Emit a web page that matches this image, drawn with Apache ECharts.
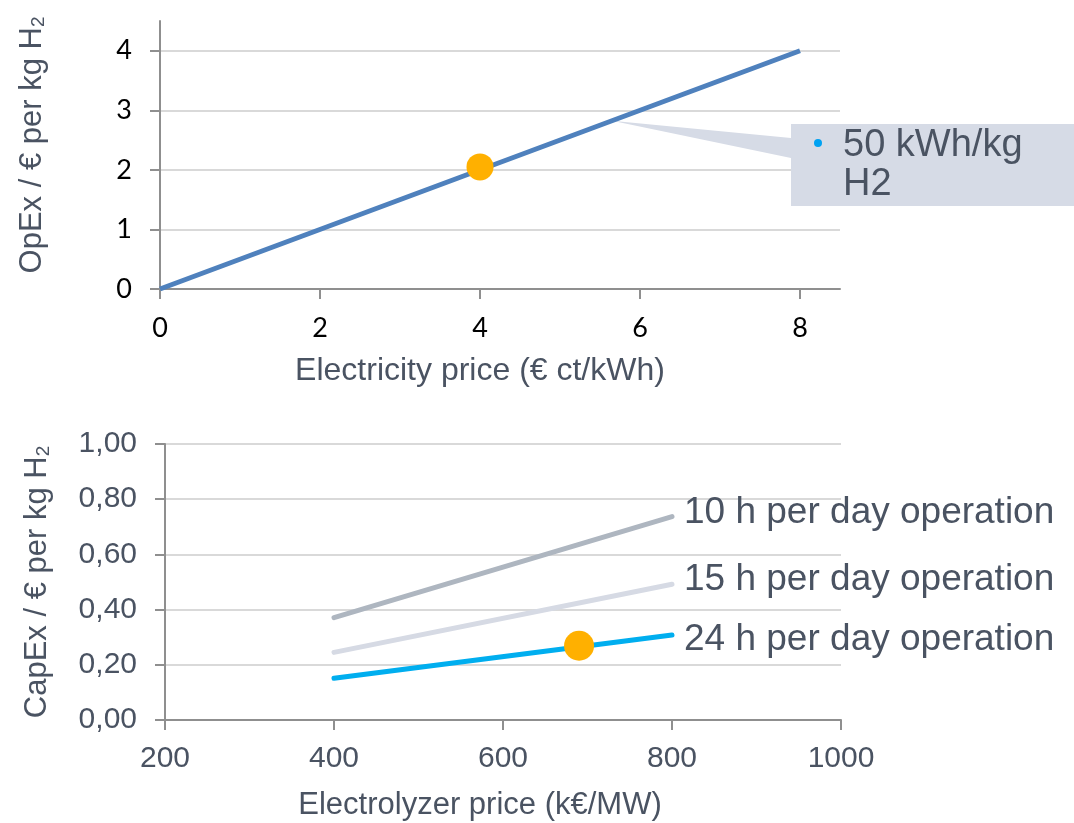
<!DOCTYPE html>
<html>
<head>
<meta charset="utf-8">
<script src="https://cdn.jsdelivr.net/npm/echarts@6/dist/echarts.min.js"></script>
<style>
html,body{margin:0;padding:0;background:#fff;}
#main{width:1074px;height:823px;}
</style>
</head>
<body>
<div id="main"></div>
<script>
// ---- data ----
const opexX = [0, 8];
const opexY = [0, 4];
const opexPoint = [4, 2.05];
const opexXTicks = [0, 2, 4, 6, 8];
const opexYTicks = [0, 1, 2, 3, 4];
const calloutAnchor = [5.65, 2.825];
const calloutLines = ['50 kWh/kg', 'H2'];

const capexX = [400, 800];
const seriesNames = ['10 h per day operation', '15 h per day operation', '24 h per day operation'];
const capex10h = [0.371, 0.737];
const capex15h = [0.245, 0.492];
const capex24h = [0.151, 0.308];
const capexPoint = [690, 0.269];
const capexXTicks = [200, 400, 600, 800, 1000];
const capexYTicks = [0, 0.2, 0.4, 0.6, 0.8, 1.0];

// ---- styles ----
const TXT = '#4a5362';
const AXIS = '#8f8f8f';
const GRID = '#d9d9d9';
const SANS = 'Liberation Sans, Arial, sans-serif';
const CAL = 'Lato, Carlito, sans-serif';

const chart = echarts.init(document.getElementById('main'), null, {renderer: 'canvas'});

function pairs(xs, ys) { return xs.map((x, i) => [x, ys[i]]); }

const subRich = {
  a: {fontSize: 31, fontFamily: SANS, color: TXT},
  s: {fontSize: 19, fontFamily: SANS, color: TXT, verticalAlign: 'bottom'}
};

const option = {
  animation: false,
  backgroundColor: '#fff',
  grid: [
    {left: 160, right: 234, top: 21, bottom: 534},
    {left: 165, right: 233, top: 444, bottom: 103}
  ],
  xAxis: [
    {
      gridIndex: 0, type: 'value', min: 0, max: 8.5, interval: 2,
      name: 'Electricity price (€ ct/kWh)', nameLocation: 'middle', nameGap: 66,
      nameTextStyle: {color: TXT, fontSize: 32, fontFamily: SANS, padding: [0, 40, 0, 0]},
      axisLine: {show: true, lineStyle: {color: AXIS, width: 2}},
      axisTick: {show: true, length: 10, customValues: opexXTicks, lineStyle: {color: AXIS, width: 2}},
      axisLabel: {customValues: opexXTicks, color: '#000', fontSize: 27, fontFamily: CAL, margin: 26},
      splitLine: {show: false}
    },
    {
      gridIndex: 1, type: 'value', min: 200, max: 1000, interval: 200,
      name: 'Electrolyzer price (k€/MW)', nameLocation: 'middle', nameGap: 70,
      nameTextStyle: {color: TXT, fontSize: 31, fontFamily: SANS, padding: [0, 46, 0, 0]},
      axisLine: {show: true, lineStyle: {color: AXIS, width: 2}},
      axisTick: {show: true, length: 10, customValues: capexXTicks, lineStyle: {color: AXIS, width: 2}},
      axisLabel: {customValues: capexXTicks, color: TXT, fontSize: 30, fontFamily: SANS, margin: 24,
        formatter: v => String(v)},
      splitLine: {show: false}
    }
  ],
  yAxis: [
    {
      gridIndex: 0, type: 'value', min: 0, max: 4.5, interval: 1,
      name: '{a|OpEx / € per kg H}{s|2}', nameLocation: 'middle', nameGap: 112,
      nameTextStyle: {color: TXT, fontFamily: SANS, padding: [0, 0, 0, 20], rich: subRich},
      axisLine: {show: true, lineStyle: {color: AXIS, width: 2}},
      axisTick: {show: true, length: 10, customValues: opexYTicks, lineStyle: {color: AXIS, width: 2}},
      axisLabel: {customValues: opexYTicks, color: '#000', fontSize: 27, fontFamily: CAL, margin: 28},
      splitLine: {show: true, lineStyle: {color: [GRID, GRID, GRID, GRID, GRID, 'rgba(0,0,0,0)'], width: 2}}
    },
    {
      gridIndex: 1, type: 'value', min: 0, max: 1, interval: 0.2,
      name: '{a|CapEx / € per kg H}{s|2}', nameLocation: 'middle', nameGap: 112,
      nameTextStyle: {color: TXT, fontFamily: SANS, rich: subRich},
      axisLine: {show: true, lineStyle: {color: AXIS, width: 2}},
      axisTick: {show: true, length: 10, customValues: capexYTicks, lineStyle: {color: AXIS, width: 2}},
      axisLabel: {customValues: capexYTicks, color: TXT, fontSize: 30, fontFamily: SANS, margin: 28,
        formatter: v => v.toFixed(2).replace('.', ',')},
      splitLine: {show: true, lineStyle: {color: GRID, width: 2}}
    }
  ],
  series: [
    {
      type: 'line', xAxisIndex: 0, yAxisIndex: 0, data: pairs(opexX, opexY),
      showSymbol: false, lineStyle: {color: '#4f81bd', width: 5}, z: 3
    },
    {
      type: 'scatter', xAxisIndex: 0, yAxisIndex: 0, data: [opexPoint],
      symbolSize: 27, itemStyle: {color: '#ffb000', opacity: 1}, z: 5
    },
    {
      name: seriesNames[0], type: 'line', xAxisIndex: 1, yAxisIndex: 1, data: pairs(capexX, capex10h),
      showSymbol: false, lineStyle: {color: '#aeb6c0', width: 5, cap: 'round'},
      endLabel: {show: true, formatter: seriesNames[0], color: TXT, fontSize: 37, fontFamily: SANS, distance: 12, offset: [0, -4]}
    },
    {
      name: seriesNames[1], type: 'line', xAxisIndex: 1, yAxisIndex: 1, data: pairs(capexX, capex15h),
      showSymbol: false, lineStyle: {color: '#d6dae4', width: 5, cap: 'round'},
      endLabel: {show: true, formatter: seriesNames[1], color: TXT, fontSize: 37, fontFamily: SANS, distance: 12, offset: [0, -4]}
    },
    {
      name: seriesNames[2], type: 'line', xAxisIndex: 1, yAxisIndex: 1, data: pairs(capexX, capex24h),
      showSymbol: false, lineStyle: {color: '#00aeef', width: 5, cap: 'round'},
      endLabel: {show: true, formatter: seriesNames[2], color: TXT, fontSize: 37, fontFamily: SANS, distance: 12, offset: [0, 5]}
    },
    {
      type: 'scatter', xAxisIndex: 1, yAxisIndex: 1, data: [capexPoint],
      symbolSize: 30, itemStyle: {color: '#ffb000', opacity: 1}, z: 5
    }
  ]
};
chart.setOption(option);

// callout for the OpEx line, anchored to the data via the axis scales
const tip = chart.convertToPixel({gridIndex: 0}, calloutAnchor);
const boxX = 791, boxY = 124, boxW = 283, boxH = 82;
chart.setOption({
  graphic: [
    {type: 'polygon', z: 1, shape: {points: [tip, [boxX, boxY + 14], [boxX, boxY + 34]]}, style: {fill: '#d6dbe6'}},
    {type: 'rect', z: 1, shape: {x: boxX, y: boxY, width: boxW, height: boxH}, style: {fill: '#d6dbe6'}},
    {type: 'circle', z: 2, shape: {cx: boxX + 27, cy: boxY + 19, r: 4}, style: {fill: '#00a2f2'}},
    {type: 'text', z: 2, x: boxX + 52, y: boxY + 22, style: {text: calloutLines[0], fill: TXT, fontSize: 38, fontFamily: SANS, verticalAlign: 'middle'}},
    {type: 'text', z: 2, x: boxX + 52, y: boxY + 61, style: {text: calloutLines[1], fill: TXT, fontSize: 38, fontFamily: SANS, verticalAlign: 'middle'}}
  ]
});
</script>
</body>
</html>
